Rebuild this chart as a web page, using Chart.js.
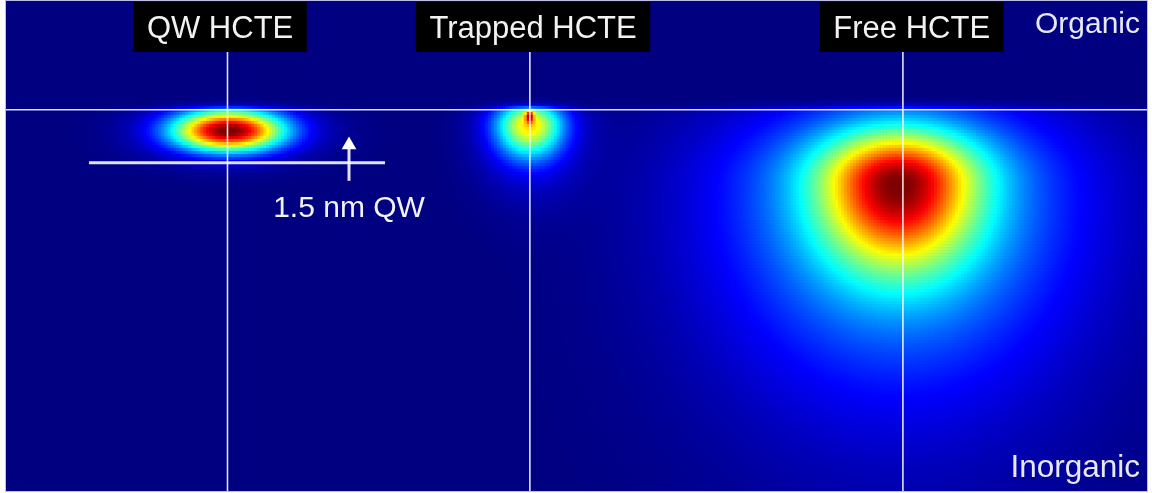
<!DOCTYPE html>
<html>
<head>
<meta charset="utf-8">
<script src="https://cdn.jsdelivr.net/npm/chart.js@4.4.1/dist/chart.umd.min.js"></script>
<style>
  html, body { margin: 0; padding: 0; background: #ffffff; }
  canvas { display: block; }
</style>
</head>
<body>
<canvas id="map" width="1152" height="493"></canvas>
<script>
// Map extent in nm: lateral position (x) and depth measured from the top edge (y).
const X_MAX = 32.3;
const Y_MAX = 13.87;
const INTERFACE_DEPTH = 3.08;      // organic / inorganic boundary
const QW_WIDTH = 1.5;              // quantum-well thickness below the boundary
const ORGANIC_DECAY = 0.11;        // decay length of the density on the organic side

// Exciton names, marker-line positions and label anchors (nm)
const excitonNames = ['QW HCTE', 'Trapped HCTE', 'Free HCTE'];
const excitonLineX = [6.27, 14.83, 25.39];
const excitonLabelX = [6.06, 14.92, 25.64];
const labelBottomDepth = 1.44;

// Gaussian components of the hole density (centre, widths in nm, relative amplitude)
//                  QW    QW    trap   trap   trap   free   free   free
const compX      = [6.31, 6.31, 14.83, 14.83, 14.83, 25.28, 25.28, 25.28];
const compY      = [3.68, 3.70, 3.255, 3.51,  3.60,  5.15,  5.15,  7.20];
const compSx     = [1.08, 1.75, 0.085, 0.65,  1.00,  1.50,  3.40,  4.20];
const compSyUp   = [0.40, 0.62, 0.10,  0.45,  0.60,  0.99,  1.70,  3.00];
const compSyDown = [0.40, 0.62, 0.13,  0.62,  1.27,  1.63,  3.58,  5.00];
const compAmp    = [0.92, 0.10, 0.42,  0.52,  0.14,  0.65,  0.30,  0.075];

// Quantum-well marker: bar extent, arrow position and caption
const qwBarX = [2.35, 10.73];
const qwArrowX = 9.71;
const qwArrowDepth = [5.09, 4.19];
const qwArrowHeadDepth = 4.076;
const qwCaption = '1.5 nm QW';
const qwCaptionDepth = 6.11;

const sideNames = ['Organic', 'Inorganic'];
const sideDepth = [0.906, 13.47];

// Sampling grid of the density map
const NX = 381, NY = 163;
const cellW = X_MAX / NX, cellH = Y_MAX / NY;

function density(x, y) {
  let v = 0;
  for (let k = 0; k < compX.length; k++) {
    const ddx = x - compX[k], ddy = y - compY[k];
    const sy = ddy < 0 ? compSyUp[k] : compSyDown[k];
    v += compAmp[k] * Math.exp(-(ddx * ddx) / (2 * compSx[k] * compSx[k]) - (ddy * ddy) / (2 * sy * sy));
  }
  if (y < INTERFACE_DEPTH) v *= Math.exp(-(INTERFACE_DEPTH - y) / ORGANIC_DECAY);
  return Math.min(1, v);
}

function jet(v) {
  const c = t => Math.round(255 * Math.max(0, Math.min(1, t)));
  return 'rgb(' + c(1.5 - Math.abs(4 * v - 3)) + ',' + c(1.5 - Math.abs(4 * v - 2)) + ',' + c(1.5 - Math.abs(4 * v - 1)) + ')';
}

const cells = [];
const cellColors = [];
for (let j = 0; j < NY; j++) {
  const y = (j + 0.5) * cellH;
  for (let i = 0; i < NX; i++) {
    const x = (i + 0.5) * cellW;
    const v = density(x, y);
    if (v < 0.004) continue;
    cells.push({ x: x, y: y });
    cellColors.push(jet(v));
  }
}

// Half-diagonal of one grid cell in pixels, slightly enlarged so cells overlap.
let radiusCache = null;
function cellRadius(chart) {
  if (radiusCache !== null) return radiusCache;
  const xs = chart.scales.x, ys = chart.scales.y;
  const w = Math.abs(xs.getPixelForValue(cellW) - xs.getPixelForValue(0));
  const h = Math.abs(ys.getPixelForValue(cellH) - ys.getPixelForValue(0));
  const r = (Math.max(w, h) + 0.7) / Math.SQRT2;
  if (!isFinite(r) || r <= 0) return 2.6;
  radiusCache = r;
  return r;
}

const WHITE = 'rgba(255,255,255,0.88)';
function segment(points, width) {
  return {
    data: points, showLine: true, borderColor: WHITE, borderWidth: width,
    pointRadius: 0, fill: false, order: 0
  };
}

const datasets = [];
// interface line
datasets.push(segment([{ x: 0, y: INTERFACE_DEPTH }, { x: X_MAX, y: INTERFACE_DEPTH }], 1.6));
// exciton marker lines
excitonLineX.forEach(x => datasets.push(segment([{ x: x, y: labelBottomDepth }, { x: x, y: Y_MAX }], 1.6)));
// quantum-well bottom bar
datasets.push(segment([{ x: qwBarX[0], y: INTERFACE_DEPTH + QW_WIDTH }, { x: qwBarX[1], y: INTERFACE_DEPTH + QW_WIDTH }], 3));
// arrow shaft and head
datasets.push(segment([{ x: qwArrowX, y: qwArrowDepth[0] }, { x: qwArrowX, y: qwArrowDepth[1] }], 3));
datasets.push({
  data: [{ x: qwArrowX, y: qwArrowHeadDepth }], showLine: false,
  pointStyle: 'triangle', pointRadius: 8.5, backgroundColor: '#ffffff',
  borderWidth: 0, order: 0
});
// density map cells
datasets.push({
  data: cells, showLine: false, pointStyle: 'rect',
  backgroundColor: cellColors, borderWidth: 0,
  pointRadius: ctx => cellRadius(ctx.chart), order: 5
});

const FONT = '"Liberation Sans", Arial, sans-serif';

const decorations = {
  id: 'decorations',
  beforeDatasetsDraw(chart) {
    const { ctx, chartArea: a } = chart;
    ctx.save();
    ctx.fillStyle = '#000080';
    ctx.fillRect(a.left, a.top, a.right - a.left, a.bottom - a.top);
    ctx.restore();
  },
  afterDatasetsDraw(chart) {
    const { ctx, chartArea: a } = chart;
    const xs = chart.scales.x, ys = chart.scales.y;
    ctx.save();
    // exciton labels on black boxes
    ctx.font = '31px ' + FONT;
    ctx.textAlign = 'center';
    ctx.textBaseline = 'alphabetic';
    const boxBottom = ys.getPixelForValue(labelBottomDepth);
    excitonNames.forEach((name, i) => {
      const cx = xs.getPixelForValue(excitonLabelX[i]);
      const w = ctx.measureText(name).width + 27;
      ctx.fillStyle = '#000000';
      ctx.fillRect(cx - w / 2, a.top + 1, w, boxBottom - a.top - 1);
      ctx.fillStyle = '#f2f2f2';
      ctx.fillText(name, cx, a.top + 37);
    });
    // organic / inorganic side names
    ctx.textAlign = 'right';
    ctx.fillStyle = '#e8e8f4';
    ctx.font = '30px ' + FONT;
    ctx.fillText(sideNames[0], a.right - 7, ys.getPixelForValue(sideDepth[0]));
    ctx.font = '31.5px ' + FONT;
    ctx.fillText(sideNames[1], a.right - 7, ys.getPixelForValue(sideDepth[1]));
    // quantum-well caption
    ctx.textAlign = 'center';
    ctx.font = '30px ' + FONT;
    ctx.fillStyle = '#f2f2f2';
    ctx.fillText(qwCaption, xs.getPixelForValue(qwArrowX), ys.getPixelForValue(qwCaptionDepth));
    // frame
    ctx.strokeStyle = 'rgba(185,185,230,0.95)';
    ctx.lineWidth = 1;
    ctx.strokeRect(a.left - 0.5, a.top - 0.5, a.right - a.left + 1, a.bottom - a.top + 1);
    ctx.restore();
  }
};

new Chart(document.getElementById('map'), {
  type: 'scatter',
  data: { datasets: datasets },
  options: {
    responsive: false,
    animation: false,
    events: [],
    normalized: true,
    layout: { autoPadding: false, padding: { left: 6, top: 1, right: 5, bottom: 2 } },
    plugins: { legend: { display: false }, tooltip: { enabled: false } },
    scales: {
      x: { type: 'linear', min: 0, max: X_MAX, display: false },
      y: { type: 'linear', min: 0, max: Y_MAX, reverse: true, display: false }
    }
  },
  plugins: [decorations]
});
</script>
</body>
</html>
